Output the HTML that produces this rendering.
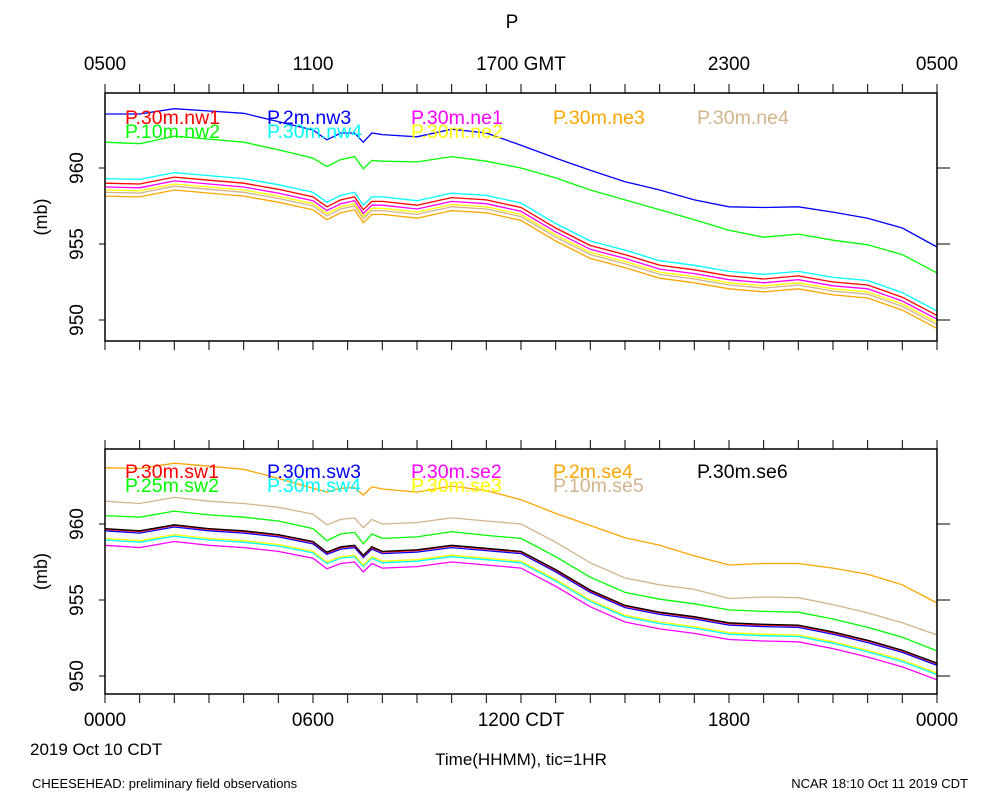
<!DOCTYPE html>
<html><head><meta charset="utf-8"><style>
body{margin:0;background:#fff}
svg{display:block;font-family:"Liberation Sans",sans-serif}
</style></head><body>
<svg id="chart" width="1000" height="800" viewBox="0 0 1000 800" xmlns="http://www.w3.org/2000/svg">
<rect width="1000" height="800" fill="#fff"/>
<text x="512" y="28" font-size="19" text-anchor="middle">P</text>
<g id="top-labels" font-size="19" text-anchor="middle">
<text x="105" y="70">0500</text><text x="313" y="70">1100</text><text x="521" y="70">1700 GMT</text><text x="729" y="70">2300</text><text x="937" y="70">0500</text>
</g>
<g id="bot-labels" font-size="19" text-anchor="middle">
<text x="105" y="726">0000</text><text x="313" y="726">0600</text><text x="521" y="726">1200 CDT</text><text x="729" y="726">1800</text><text x="937" y="726">0000</text>
</g>
<text x="30" y="755" font-size="17">2019 Oct 10 CDT</text>
<text x="521" y="765" font-size="17" text-anchor="middle">Time(HHMM), tic=1HR</text>
<text x="32" y="788" font-size="13">CHEESEHEAD: preliminary field observations</text>
<text x="968" y="788" font-size="13" text-anchor="end">NCAR 18:10 Oct 11 2019 CDT</text>
<g id="plots"></g>
</svg>
<script>
const hours = [0,1,2,3,4,5,6,6.4,6.8,7.2,7.45,7.7,8,9,10,11,12,13,14,15,16,17,18,19,20,21,22,23,24];
const yTicks = [950,955,960];
// top panel
const nw1 = [959.0,958.95,959.4,959.2,959.0,958.6,958.1,957.45,957.9,958.1,957.25,957.8,957.8,957.55,958.05,957.9,957.4,956.05,954.9,954.3,953.6,953.3,952.9,952.7,952.9,952.5,952.3,951.5,950.3];
const nw4 = [959.3,959.25,959.7,959.5,959.3,958.9,958.4,957.75,958.2,958.4,957.55,958.1,958.1,957.85,958.35,958.2,957.7,956.35,955.2,954.6,953.9,953.6,953.2,953.0,953.2,952.8,952.6,951.8,950.6];
const ne1 = [958.75,958.7,959.15,958.95,958.75,958.35,957.85,957.2,957.65,957.85,957.0,957.55,957.55,957.3,957.8,957.65,957.15,955.8,954.65,954.05,953.35,953.05,952.65,952.45,952.65,952.25,952.05,951.25,950.05];
const ne2 = [958.55,958.5,958.95,958.75,958.55,958.15,957.65,957.0,957.45,957.65,956.8,957.35,957.35,957.1,957.6,957.45,956.95,955.6,954.45,953.85,953.15,952.85,952.45,952.25,952.45,952.05,951.85,951.05,949.85];
const ne4 = [958.4,958.35,958.8,958.6,958.4,958.0,957.5,956.85,957.3,957.5,956.65,957.2,957.2,956.95,957.45,957.3,956.8,955.45,954.3,953.7,953.0,952.7,952.3,952.1,952.3,951.9,951.7,950.9,949.7];
const ne3 = [958.15,958.1,958.55,958.35,958.15,957.75,957.25,956.6,957.05,957.25,956.4,956.95,956.95,956.7,957.2,957.05,956.55,955.2,954.05,953.45,952.75,952.45,952.05,951.85,952.05,951.65,951.45,950.65,949.45];
const nw3 = [963.55,963.55,963.9,963.75,963.6,963.05,962.5,961.85,962.3,962.3,961.7,962.3,962.2,962.05,962.55,962.3,961.5,960.65,959.85,959.1,958.55,957.9,957.45,957.4,957.45,957.1,956.7,956.05,954.8];
const nw2 = [961.7,961.6,962.1,961.9,961.7,961.2,960.65,960.1,960.55,960.75,959.95,960.5,960.45,960.4,960.75,960.45,960.0,959.35,958.55,957.9,957.25,956.6,955.9,955.45,955.65,955.25,954.95,954.3,953.1];
// bottom panel
const se6 = [959.7,959.55,959.95,959.7,959.55,959.3,958.85,958.15,958.5,958.6,957.95,958.5,958.2,958.3,958.6,958.4,958.2,957.0,955.65,954.65,954.2,953.9,953.5,953.4,953.35,952.9,952.35,951.7,950.85];
const sw1 = [959.65,959.5,959.9,959.65,959.5,959.25,958.8,958.1,958.45,958.55,957.9,958.45,958.15,958.25,958.55,958.35,958.15,956.95,955.6,954.6,954.15,953.85,953.45,953.35,953.3,952.85,952.3,951.65,950.8];
const sw3 = [959.55,959.4,959.8,959.55,959.4,959.15,958.7,958.0,958.35,958.45,957.8,958.35,958.05,958.15,958.45,958.25,958.05,956.85,955.5,954.5,954.05,953.75,953.35,953.25,953.2,952.75,952.2,951.55,950.7];
const se3 = [959.05,958.9,959.3,959.05,958.9,958.65,958.2,957.5,957.85,957.95,957.3,957.85,957.55,957.65,957.95,957.75,957.55,956.35,955.0,954.0,953.55,953.25,952.85,952.75,952.7,952.25,951.7,951.05,950.2];
const sw4 = [958.95,958.8,959.2,958.95,958.8,958.55,958.1,957.4,957.75,957.85,957.2,957.75,957.45,957.55,957.85,957.65,957.45,956.25,954.9,953.9,953.45,953.15,952.75,952.65,952.6,952.15,951.6,950.95,950.1];
const se2 = [958.6,958.45,958.85,958.6,958.45,958.2,957.75,957.05,957.4,957.5,956.85,957.4,957.1,957.2,957.5,957.3,957.1,955.9,954.55,953.55,953.1,952.8,952.4,952.3,952.25,951.8,951.25,950.6,949.75];
const sw2 = [960.55,960.45,960.85,960.6,960.45,960.2,959.7,958.9,959.35,959.45,958.7,959.35,959.05,959.15,959.5,959.25,959.05,957.85,956.5,955.5,955.05,954.75,954.35,954.25,954.2,953.75,953.2,952.55,951.65];
const se5 = [961.5,961.35,961.75,961.5,961.35,961.1,960.65,959.95,960.3,960.4,959.75,960.3,960.0,960.1,960.4,960.2,960.0,958.8,957.45,956.45,956.0,955.7,955.1,955.2,955.15,954.7,954.15,953.5,952.7];
const se4 = [963.7,963.65,964.0,963.8,963.6,963.0,962.35,962.1,962.35,962.4,961.9,962.45,962.3,962.1,962.5,962.2,961.6,960.7,959.9,959.1,958.6,957.9,957.3,957.4,957.4,957.1,956.7,956.0,954.8];

const X0=105, X1=937;
const panels = [
 {name:'top', y0:93, y1:341, y960:168,
  series:[['nw1',nw1,'#ff0000'],['nw3',nw3,'#0000ff'],['ne1',ne1,'#ff00ff'],['ne3',ne3,'#ffa500'],['ne4',ne4,'#d2b48c'],['nw2',nw2,'#00ff00'],['nw4',nw4,'#00ffff'],['ne2',ne2,'#ffff00']],
  legend:[['P.30m.nw1','#ff0000',125,124],['P.2m.nw3','#0000ff',267,124],['P.30m.ne1','#ff00ff',411,124],['P.30m.ne3','#ffa500',553,124],['P.30m.ne4','#d2b48c',697,124],
          ['P.10m.nw2','#00ff00',125,138],['P.30m.nw4','#00ffff',267,138],['P.30m.ne2','#ffff00',411,138]]},
 {name:'bottom', y0:449, y1:694, y960:524,
  series:[['se4',se4,'#ffa500'],['se5',se5,'#d2b48c'],['sw2',sw2,'#00ff00'],['se2',se2,'#ff00ff'],['sw4',sw4,'#00ffff'],['se3',se3,'#ffff00'],['sw3',sw3,'#0000ff'],['sw1',sw1,'#ff0000'],['se6',se6,'#000000']],
  legend:[['P.30m.sw1','#ff0000',125,478],['P.30m.sw3','#0000ff',267,478],['P.30m.se2','#ff00ff',411,478],['P.2m.se4','#ffa500',553,478],['P.30m.se6','#000000',697,478],
          ['P.25m.sw2','#00ff00',125,492],['P.30m.sw4','#00ffff',267,492],['P.30m.se3','#ffff00',411,492],['P.10m.se5','#d2b48c',553,492]]}
];
const NS='http://www.w3.org/2000/svg';
const root=document.getElementById('plots');
function mk(tag,attrs,parent){const e=document.createElementNS(NS,tag);for(const k in attrs)e.setAttribute(k,attrs[k]);parent.appendChild(e);return e;}
const xScale=h=>X0+h*(X1-X0)/24;
panels.forEach(p=>{
  const yScale=v=>p.y960+(960-v)*15.2;
  const g=mk('g',{},root);
  
  
  p.series.forEach(s=>{
    const d=s[1].map((v,i)=>(i?'L':'M')+xScale(hours[i]).toFixed(1)+' '+yScale(v).toFixed(1)).join(' ');
    const path=mk('path',{d:d,fill:'none',stroke:s[2],'stroke-width':'1.3'},g);
    
    
  });
  p.legend.forEach(l=>{
    const t=mk('text',{x:l[2],y:l[3],fill:l[1],'font-size':'19.5'},g);
    t.textContent=l[0];
    
    
  });
  const fr=mk('rect',{x:X0,y:p.y0,width:X1-X0,height:p.y1-p.y0,fill:'none',stroke:'#000','stroke-width':'1.5'},g);
  
  
  for(let h=0;h<=24;h++){
    const x=xScale(h);
    mk('line',{x1:x,x2:x,y1:p.y1,y2:p.y1+9,stroke:'#000','stroke-width':'1'},g);
    mk('line',{x1:x,x2:x,y1:p.y0,y2:p.y0-9,stroke:'#000','stroke-width':'1'},g);
  }
  yTicks.forEach(v=>{
    const y=yScale(v);
    mk('line',{x1:X0-6,x2:X0,y1:y,y2:y,stroke:'#000'},g);
    mk('line',{x1:X1,x2:X1+13,y1:y,y2:y,stroke:'#000'},g);
    const t=mk('text',{x:0,y:0,'font-size':'19','text-anchor':'middle',transform:`translate(83 ${y}) rotate(-90)`},g);
    t.textContent=v;
    
    
  });
  const yt=mk('text',{x:0,y:0,'font-size':'18','text-anchor':'middle',transform:`translate(47 ${(p.y0+p.y1)/2}) rotate(-90)`},g);
  yt.textContent='(mb)';
  
  
});
</script>
</body></html>
